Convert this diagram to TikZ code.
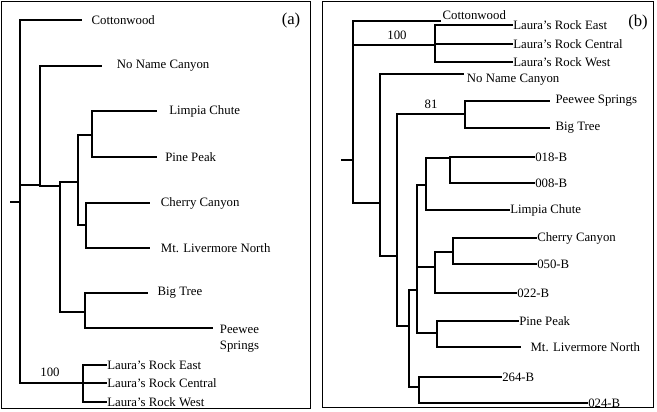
\documentclass[tikz,border=0pt]{standalone}
\usepackage{fontspec}
\setmainfont{Liberation Serif}
\tikzset{
  branch/.style={line width=1.3pt},
  leaf/.style={anchor=west,inner xsep=2pt,inner ysep=0pt,font=\fontsize{9.6}{10}\selectfont},
  tag/.style={font=\fontsize{9.6}{10}\selectfont},
}
\begin{document}
\begin{tikzpicture}[x=0.75pt,y=0.75pt,yscale=-1,xscale=1]
\useasboundingbox (0,0) rectangle (657,411);

%Panel frames
\draw[line width=0.6pt] (1,1) rectangle (310,408);
\draw[line width=0.6pt] (322,1) rectangle (653,407);
\node[font=\fontsize{12.5}{13}\selectfont] (pa) at (291,20) {(a)};
\node[font=\fontsize{12.5}{13}\selectfont] (pb) at (638,22) {(b)};

%----- tree (a)
\coordinate (aroot) at (20,202);
\coordinate (astub) at (10,202);
\coordinate (a1) at (40,185);
\coordinate (a2) at (60,186);
\coordinate (a3) at (78,182);
\coordinate (a4) at (92,135);
\coordinate (a5) at (86,225);
\coordinate (a6) at (85,312);
\coordinate (alr) at (83,383);
\node[leaf,inner xsep=7pt] (acot) at (82,20) {Cottonwood};
\node[leaf,inner xsep=11pt] (anon) at (102,66) {No Name Canyon};
\node[leaf,inner xsep=9pt] (alim) at (157,111) {Limpia Chute};
\node[leaf,inner xsep=6pt] (apin) at (157,157) {Pine Peak};
\node[leaf,inner xsep=8pt] (ache) at (150,203) {Cherry Canyon};
\node[leaf,inner xsep=8pt] (amtl) at (150,248) {Mt. Livermore North};
\node[leaf,inner xsep=7pt] (abig) at (148,293) {Big Tree};
\node[leaf,inner xsep=5pt,align=left] (apee) at (213,339) {Peewee\\[2pt]Springs};
\node[leaf,inner xsep=0pt] (alre) at (107,365) {Laura's Rock East};
\node[leaf,inner xsep=0pt] (alrc) at (107,383) {Laura's Rock Central};
\node[leaf,inner xsep=0pt] (alrw) at (107,402) {Laura's Rock West};
\node[tag] (a100) at (50,372) {100};

\draw[branch] (astub) -- (aroot);
\draw[branch] (aroot) |- (acot.west);
\draw[branch] (aroot) |- (a1);
\draw[branch] (aroot) |- (alr);
\draw[branch] (a1) |- (anon.west);
\draw[branch] (a1) |- (a2);
\draw[branch] (a2) |- (a3);
\draw[branch] (a2) |- (a6);
\draw[branch] (a3) |- (a4);
\draw[branch] (a3) |- (a5);
\draw[branch] (a4) |- (alim.west);
\draw[branch] (a4) |- (apin.west);
\draw[branch] (a5) |- (ache.west);
\draw[branch] (a5) |- (amtl.west);
\draw[branch] (a6) |- (abig.west);
\draw[branch] (a6) |- ([yshift=-8]apee.west);
\draw[branch] (alr) |- (alre.west);
\draw[branch] (alr) |- (alrc.west);
\draw[branch] (alr) |- (alrw.west);

%----- tree (b)
\coordinate (broot) at (353,160);
\coordinate (bstub) at (341,160);
\coordinate (blr) at (435,45);
\coordinate (b1) at (380,203);
\coordinate (b2) at (397,256);
\coordinate (b81) at (465,114);
\coordinate (b3) at (409,326);
\coordinate (b4) at (417,290);
\coordinate (b5) at (419,387);
\coordinate (b6) at (426,185);
\coordinate (b7) at (450,158);
\coordinate (b8) at (435,267);
\coordinate (b9) at (453,252);
\coordinate (b10) at (437,333);
\node[leaf,anchor=south west,inner xsep=1pt,inner ysep=1pt] (bcot) at (441,21) {Cottonwood};
\node[leaf,inner xsep=0pt] (blre) at (513,25) {Laura's Rock East};
\node[leaf,inner xsep=0pt] (blrc) at (513,44) {Laura's Rock Central};
\node[leaf,inner xsep=0pt] (blrw) at (513,62) {Laura's Rock West};
\node[leaf,anchor=north west,inner xsep=2pt,inner ysep=1pt] (bnon) at (464,72) {No Name Canyon};
\node[leaf,inner xsep=4pt] (bpee) at (550,101) {Peewee Springs};
\node[leaf,inner xsep=4pt] (bbig) at (550,128) {Big Tree};
\node[leaf,inner xsep=0pt] (b018) at (535,157) {018-B};
\node[leaf,inner xsep=0pt] (b008) at (535,183) {008-B};
\node[leaf,inner xsep=0pt] (blim) at (510,210) {Limpia Chute};
\node[leaf,inner xsep=0pt] (bche) at (537,238) {Cherry Canyon};
\node[leaf,inner xsep=0pt] (b050) at (537,264) {050-B};
\node[leaf,inner xsep=0pt] (b022) at (517,293) {022-B};
\node[leaf,inner xsep=0pt] (bpin) at (519,321) {Pine Peak};
\node[leaf,inner xsep=7pt] (bmtl) at (521,347) {Mt. Livermore North};
\node[leaf,inner xsep=0pt] (b264) at (502,377) {264-B};
\node[leaf,inner xsep=0pt] (b024) at (588,403) {024-B};
\node[tag] (b100) at (397,35) {100};
\node[tag] (t81) at (431,104) {81};

\draw[branch] (bstub) -- (broot);
\draw[branch] (broot) |- (bcot.south west);
\draw[branch] (broot) |- (blr);
\draw[branch] (broot) |- (b1);
\draw[branch] (blr) |- (blre.west);
\draw[branch] (blr) |- (blrc.west);
\draw[branch] (blr) |- (blrw.west);
\draw[branch] (b1) |- ([yshift=1.5]bnon.north west);
\draw[branch] (b1) |- (b2);
\draw[branch] (b2) |- (b81);
\draw[branch] (b2) |- (b3);
\draw[branch] (b81) |- (bpee.west);
\draw[branch] (b81) |- (bbig.west);
\draw[branch] (b3) |- (b4);
\draw[branch] (b3) |- (b5);
\draw[branch] (b5) |- (b264.west);
\draw[branch] (b5) |- (b024.west);
\draw[branch] (b4) |- (b6);
\draw[branch] (b4) |- (b8);
\draw[branch] (b4) |- (b10);
\draw[branch] (b6) |- (b7);
\draw[branch] (b6) |- (blim.west);
\draw[branch] (b7) |- (b018.west);
\draw[branch] (b7) |- (b008.west);
\draw[branch] (b8) |- (b9);
\draw[branch] (b8) |- (b022.west);
\draw[branch] (b9) |- (bche.west);
\draw[branch] (b9) |- (b050.west);
\draw[branch] (b10) |- (bpin.west);
\draw[branch] (b10) |- (bmtl.west);
\end{tikzpicture}
\end{document}
